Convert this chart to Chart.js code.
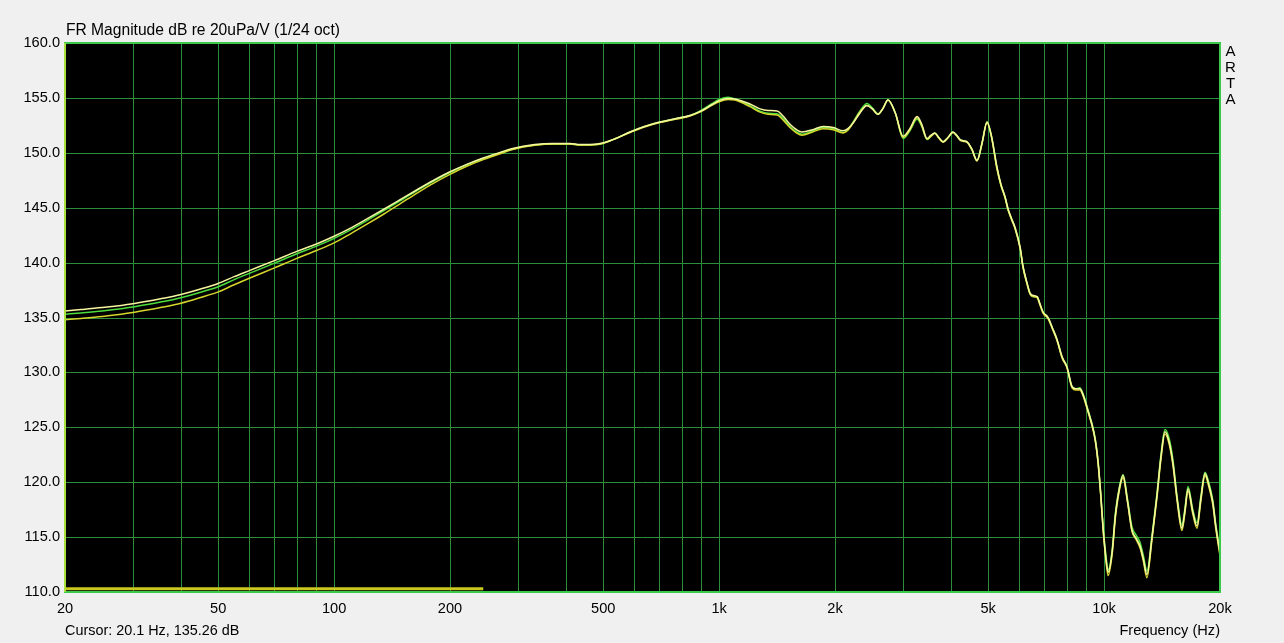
<!DOCTYPE html>
<html>
<head>
<meta charset="utf-8">
<script src="https://cdn.jsdelivr.net/npm/chart.js@4"></script>
<style>
  html, body { margin:0; padding:0; background:#f0f0f0; overflow:hidden; }
  #wrap { position:relative; width:1284px; height:643px; }
  .txt { position:absolute; font-family:"Liberation Sans", Arial, sans-serif; font-size:14.6px; color:#000; white-space:nowrap; }
</style>
</head>
<body>
<div id="wrap">
  <canvas id="c" width="1284" height="643"></canvas>
  <div class="txt" style="left:66px; top:21px; font-size:15.6px;">FR Magnitude dB re 20uPa/V (1/24 oct)</div>
  <div class="txt" style="left:1224px; top:43px; line-height:16px; font-size:15px; text-align:center; width:13px;">A<br>R<br>T<br>A</div>
  <div class="txt" style="left:65px; top:622px; font-size:14.4px;">Cursor: 20.1 Hz, 135.26 dB</div>
  <div class="txt" style="right:64px; top:622px;">Frequency (Hz)</div>
</div>
<script>
const freqHz = [
  20,22,25,28,30,33,36,40,45,50,
  55,60,70,80,90,100,110,122,135,148,
  165,181,200,221,245,270,291,332,370,410,
  436,482,530,587,640,702,770,840,891,960,
  1000,1055,1100,1150,1203,1278,1340,1414,1470,1528,
  1590,1641,1750,1862,1980,2099,2160,2228,2320,2421,
  2500,2587,2660,2747,2870,3006,3130,3267,3360,3467,
  3550,3633,3720,3818,3930,4049,4140,4226,4300,4405,
  4540,4676,4820,4964,5100,5270,5400,5529,5630,5750,
  5869,6050,6155,6300,6425,6560,6700,6820,6940,7150,
  7350,7545,7780,8010,8256,8450,8650,8810,9100,9355,
  9500,9642,9800,9945,10100,10240,10490,10700,10950,11200,
  11500,11820,12100,12400,12650,12920,13300,13720,14050,14390,
  14750,15100,15500,15930,16200,16520,17000,17430,17850,18280,
  18700,19150,19500,20000
];
const greenDb = [
  135.3,135.42,135.6,135.8,135.95,136.2,136.45,136.8,137.3,137.8,
  138.45,139.0,139.95,140.8,141.5,142.2,142.95,143.85,144.75,145.6,
  146.6,147.4,148.2,148.9,149.5,150.0,150.35,150.7,150.8,150.8,
  150.7,150.75,151.2,151.9,152.4,152.8,153.1,153.4,153.8,154.5,
  154.85,155.05,154.9,154.6,154.3,153.8,153.6,153.55,153.1,152.4,
  151.9,151.7,152.0,152.3,152.2,151.85,152.1,152.8,153.8,154.5,
  154.1,153.55,154.0,154.8,153.6,151.3,152.0,153.05,152.4,151.2,
  151.5,151.8,151.4,151.0,151.4,151.9,151.6,151.2,151.1,151.0,
  150.3,149.3,150.9,152.8,151.5,148.6,147.0,146.0,144.8,144.0,
  143.2,141.4,139.6,138.2,137.2,136.9,136.9,136.2,135.5,135.0,
  134.0,133.0,131.4,130.5,128.7,128.5,128.6,128.1,126.5,125.0,
  123.8,122.0,119.0,115.9,113.5,112.0,113.8,117.2,119.5,120.7,
  118.5,115.9,115.2,114.5,113.3,111.9,115.0,119.0,122.5,124.8,
  124.0,122.0,118.5,116.1,117.5,119.6,117.5,116.3,118.8,120.9,
  120.0,118.4,116.2,113.7
];
const paleDb = [
  135.6,135.72,135.9,136.1,136.25,136.5,136.75,137.1,137.6,138.1,
  138.72,139.25,140.18,141.02,141.7,142.4,143.12,144.0,144.88,145.7,
  146.68,147.48,148.27,148.95,149.55,150.04,150.4,150.75,150.85,150.85,
  150.75,150.8,151.2,151.9,152.4,152.8,153.1,153.4,153.75,154.4,
  154.75,154.95,154.9,154.7,154.45,154.0,153.85,153.8,153.3,152.6,
  152.1,151.9,152.1,152.4,152.3,152.0,152.2,152.7,153.6,154.3,
  154.0,153.5,154.0,154.8,153.6,151.5,152.2,153.3,152.6,151.3,
  151.6,151.8,151.4,151.0,151.4,151.9,151.6,151.2,151.1,151.0,
  150.3,149.3,150.9,152.8,151.5,148.7,147.1,146.0,144.9,144.0,
  143.2,141.4,139.7,138.2,137.2,137.0,136.9,136.2,135.5,135.0,
  134.0,133.0,131.4,130.5,128.7,128.5,128.5,128.0,126.4,124.9,
  123.7,121.9,118.9,115.7,113.2,111.8,113.6,117.0,119.4,120.6,
  118.3,115.6,114.9,114.2,113.0,111.6,114.8,118.8,122.3,124.6,
  123.7,121.7,118.3,115.8,117.3,119.4,117.3,116.0,118.6,120.8,
  119.8,118.2,116.0,113.5
];
const yellowDb = [
  134.8,134.92,135.1,135.3,135.45,135.7,135.95,136.3,136.82,137.33,
  137.98,138.55,139.52,140.38,141.1,141.8,142.6,143.52,144.45,145.33,
  146.38,147.22,148.03,148.77,149.4,149.92,150.3,150.68,150.8,150.8,
  150.7,150.75,151.2,151.85,152.35,152.75,153.05,153.35,153.7,154.35,
  154.65,154.85,154.8,154.55,154.2,153.7,153.5,153.45,152.95,152.3,
  151.8,151.6,151.9,152.2,152.1,151.8,152.05,152.7,153.7,154.3,
  154.0,153.5,154.0,154.8,153.6,151.4,152.1,153.2,152.5,151.25,
  151.5,151.75,151.35,150.95,151.35,151.85,151.55,151.15,151.05,150.95,
  150.25,149.25,150.85,152.75,151.4,148.5,147.0,145.9,144.8,143.9,
  143.1,141.3,139.6,138.1,137.1,136.9,136.8,136.1,135.4,134.9,
  133.9,132.9,131.3,130.4,128.6,128.4,128.4,127.9,126.3,124.8,
  123.6,121.8,118.8,115.6,113.0,111.5,113.4,116.8,119.2,120.4,
  118.2,115.5,114.8,114.0,112.8,111.3,114.6,118.6,122.1,124.4,
  123.5,121.5,118.1,115.6,117.1,119.2,117.1,115.8,118.4,120.6,
  119.6,118.0,115.8,113.3
];
// progress bar along the bottom of the plot
const barHz = [20, 244];
const barDb = [110.3, 110.3];

const xGridHz = [20,30,40,50,60,70,80,90,100,200,300,400,500,600,700,800,900,
  1000,2000,3000,4000,5000,6000,7000,8000,9000,10000,20000];
const xLabels = {20:'20',50:'50',100:'100',200:'200',500:'500',1000:'1k',2000:'2k',5000:'5k',10000:'10k',20000:'20k'};
const yTicks = [110,115,120,125,130,135,140,145,150,155,160];

const pts = (xs, ys) => xs.map((x, i) => ({x, y: ys[i]}));
const lineStyle = { borderWidth:1.5, pointRadius:0, fill:false, cubicInterpolationMode:'monotone' };
const GRID = '#2a8e3c';

const plotPlugin = {
  id:'plotFrame',
  beforeDatasetsDraw(chart){
    const {ctx, chartArea:a, scales} = chart;
    ctx.save();
    ctx.fillStyle = '#000';
    ctx.fillRect(a.left, a.top, a.right-a.left, a.bottom-a.top);
    ctx.strokeStyle = GRID;
    ctx.lineWidth = 1;
    ctx.beginPath();
    xGridHz.forEach(v => {
      const px = Math.round(scales.x.getPixelForValue(v)) + 0.5;
      ctx.moveTo(px, a.top); ctx.lineTo(px, a.bottom);
    });
    yTicks.forEach(v => {
      const py = Math.round(scales.y.getPixelForValue(v)) + 0.5;
      ctx.moveTo(a.left, py); ctx.lineTo(a.right, py);
    });
    ctx.stroke();
    ctx.restore();
  },
  afterDraw(chart){
    const {ctx, chartArea:a} = chart;
    ctx.save();
    ctx.strokeStyle = '#3cc84a';
    ctx.lineWidth = 2;
    ctx.strokeRect(a.left, a.top, a.right-a.left, a.bottom-a.top);
    ctx.strokeStyle = '#a8e040';
    ctx.beginPath(); ctx.moveTo(a.left, a.top); ctx.lineTo(a.left, a.bottom); ctx.stroke();
    ctx.restore();
  }
};

new Chart(document.getElementById('c'), {
  type:'line',
  data:{
    datasets:[
      Object.assign({label:'bar', data:pts(barHz, barDb), borderColor:'#c8c81e', order:0}, lineStyle, {borderWidth:3, cubicInterpolationMode:'default', tension:0}),
      Object.assign({label:'pale', data:pts(freqHz, paleDb), borderColor:'#f6f6a0', order:1}, lineStyle),
      Object.assign({label:'yellow', data:pts(freqHz, yellowDb), borderColor:'#d6d62c', order:2}, lineStyle),
      Object.assign({label:'green', data:pts(freqHz, greenDb), borderColor:'#4cdc3c', order:3}, lineStyle)
    ]
  },
  options:{
    responsive:false,
    animation:false,
    devicePixelRatio:1,
    layout:{ padding:{ left:0, top:43, right:64, bottom:0 } },
    plugins:{ legend:{display:false}, tooltip:{enabled:false}, title:{display:false} },
    scales:{
      x:{
        type:'logarithmic', min:20, max:20000,
        afterBuildTicks(s){ s.ticks = xGridHz.map(v => ({value:v})); },
        afterFit(s){ s.height = 51; },
        grid:{ display:false, drawTicks:false },
        border:{ display:false },
        ticks:{
          autoSkip:false, maxRotation:0, minRotation:0, padding:8, color:'#000',
          font:{ family:'"Liberation Sans", Arial, sans-serif', size:14.6 },
          callback(v){ return xLabels[v] || ''; }
        }
      },
      y:{
        type:'linear', min:110, max:160,
        afterBuildTicks(s){ s.ticks = yTicks.map(v => ({value:v})); },
        afterFit(s){ s.width = 65; },
        grid:{ display:false, drawTicks:false },
        border:{ display:false },
        ticks:{
          padding:5, color:'#000',
          font:{ family:'"Liberation Sans", Arial, sans-serif', size:14.6 },
          callback(v){ return Number(v).toFixed(1); }
        }
      }
    }
  },
  plugins:[plotPlugin]
});
</script>
</body>
</html>
